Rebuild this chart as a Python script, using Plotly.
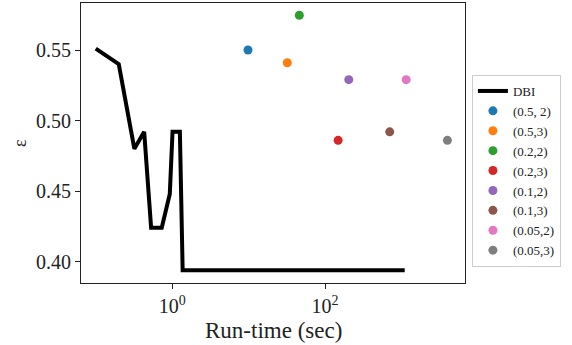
import plotly.graph_objects as go

# DBI curve
dbi_time = [0.1, 0.2, 0.32, 0.43, 0.53, 0.73, 0.93, 1.01, 1.26, 1.37, 1100]
dbi_eps = [0.551, 0.540, 0.480, 0.492, 0.424, 0.424, 0.448, 0.492, 0.492, 0.394, 0.394]

# scatter points
point_labels = ["(0.5, 2)", "(0.5,3)", "(0.2,2)", "(0.2,3)", "(0.1,2)", "(0.1,3)", "(0.05,2)", "(0.05,3)"]
point_time = [9.8, 32, 46, 148, 204, 700, 1150, 3980]
point_eps = [0.550, 0.541, 0.5746, 0.486, 0.529, 0.492, 0.529, 0.486]
point_colors = ["#1f77b4", "#ff7f0e", "#2ca02c", "#d62728", "#9467bd", "#8c564b", "#e377c2", "#7f7f7f"]

x_tickvals = [1, 100]
x_ticktext = ["10<sup>0</sup>", "10<sup>2</sup>"]
y_tickvals = [0.40, 0.45, 0.50, 0.55]
y_ticktext = ["0.40", "0.45", "0.50", "0.55"]

FONT = "Liberation Serif"

fig = go.Figure()
fig.add_trace(go.Scatter(x=dbi_time, y=dbi_eps, mode="lines", name="DBI",
                         line=dict(color="black", width=4)))
for lab, t, e, c in zip(point_labels, point_time, point_eps, point_colors):
    fig.add_trace(go.Scatter(x=[t], y=[e], mode="markers", name=lab,
                             marker=dict(color=c, size=9)))

fig.update_layout(
    width=572, height=345,
    margin=dict(l=81, r=107, t=3, b=62),
    plot_bgcolor="white", paper_bgcolor="white",
    font=dict(family=FONT, color="#222"),
    legend=dict(x=1.018, y=0.4, xanchor="left", yanchor="middle",
                bordercolor="#cccccc", borderwidth=1, bgcolor="white",
                font=dict(size=13, family=FONT), tracegroupgap=0),
    showlegend=True,
    annotations=[
        dict(text="Run-time (sec)", xref="paper", yref="paper", x=0.5, y=-0.168,
             xanchor="center", yanchor="middle", showarrow=False,
             font=dict(size=23, family=FONT, color="#222")),
        dict(text="ε", xref="paper", yref="paper", x=-0.159, y=0.5,
             xanchor="center", yanchor="middle", showarrow=False, textangle=-90,
             font=dict(size=18, family=FONT, color="#222")),
    ],
)
fig.update_xaxes(type="log", range=[-1.193, 3.83], automargin=False,
                 tickvals=x_tickvals, ticktext=x_ticktext,
                 ticks="outside", ticklen=5, tickcolor="#222",
                 showline=True, linecolor="#222", linewidth=1, mirror=True,
                 showgrid=False, zeroline=False,
                 tickfont=dict(size=20))
fig.update_yaxes(range=[0.3849, 0.5833], automargin=False,
                 tickvals=y_tickvals, ticktext=y_ticktext,
                 ticks="outside", ticklen=5, tickcolor="#222",
                 showline=True, linecolor="#222", linewidth=1, mirror=True,
                 showgrid=False, zeroline=False,
                 tickfont=dict(size=20))

fig.write_html("out.html", config={"displayModeBar": False},
               post_script="document.body.style.margin='0px';")
